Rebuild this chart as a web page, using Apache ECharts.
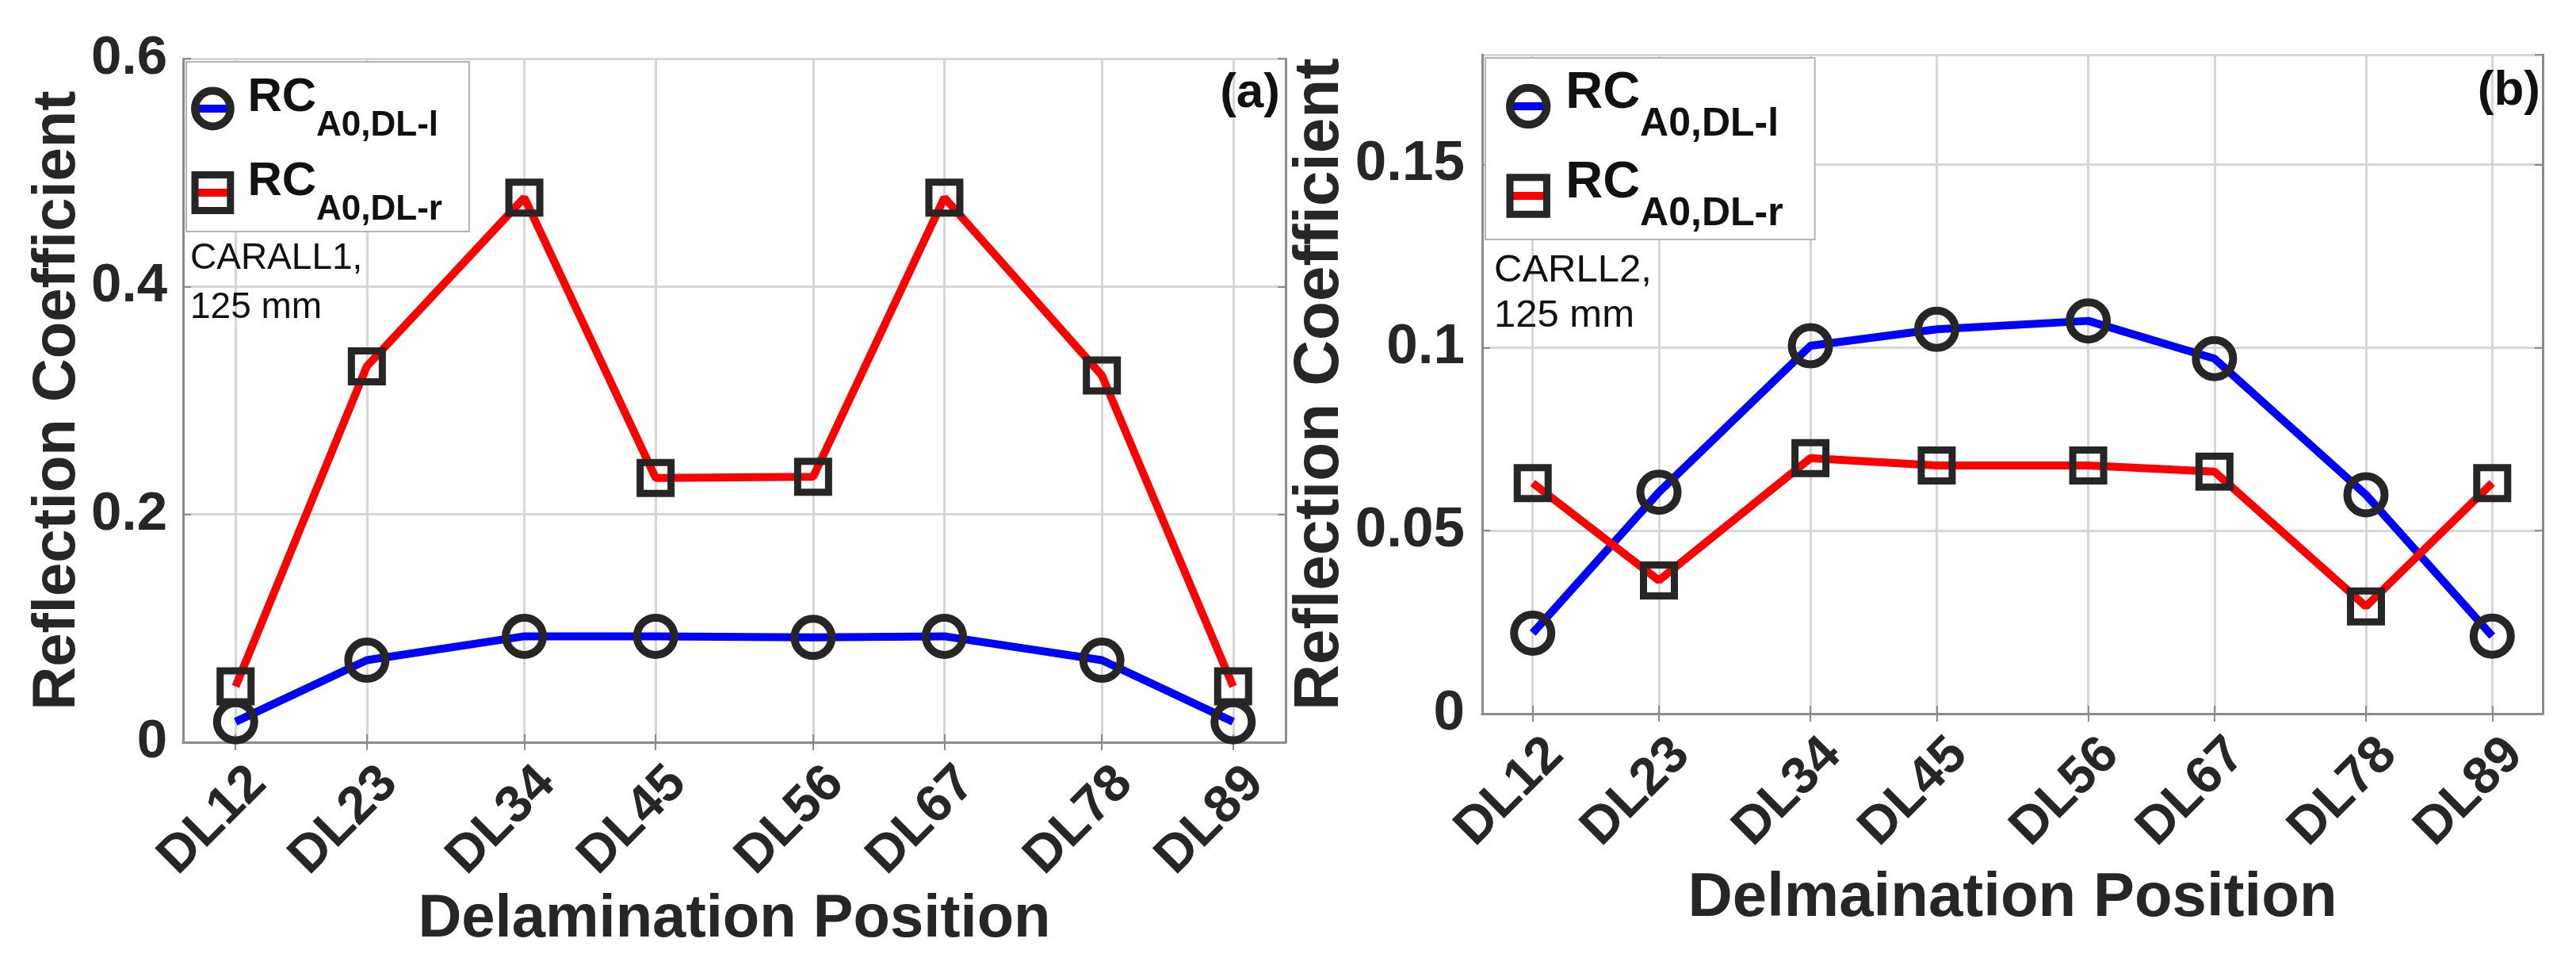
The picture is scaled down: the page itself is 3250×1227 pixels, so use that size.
<!DOCTYPE html>
<html>
<head>
<meta charset="utf-8">
<script src="https://cdn.jsdelivr.net/npm/echarts@6/dist/echarts.min.js"></script>
<style>
  html, body { margin: 0; padding: 0; background: #fff; }
  #chart { width: 3250px; height: 1227px; }
</style>
</head>
<body>
<div id="chart"></div>
<script>
// delamination positions, shared by both panels
const categories = ['DL12', 'DL23', 'DL34', 'DL45', 'DL56', 'DL67', 'DL78', 'DL89']
const xPositions = [1, 2, 3.2, 4.2, 5.4, 6.4, 7.6, 8.6]

// (a) CARALL1, 125 mm
const carall1Left = [0.018, 0.072, 0.093, 0.093, 0.092, 0.093, 0.072, 0.018]
const carall1Right = [0.049, 0.330, 0.478, 0.232, 0.233, 0.478, 0.322, 0.049]
const yTicksA = [0, 0.2, 0.4, 0.6]

// (b) CARLL2, 125 mm
const carll2Left = [0.022, 0.0605, 0.1005, 0.105, 0.1073, 0.097, 0.0598, 0.0212]
const carll2Right = [0.063, 0.0364, 0.0698, 0.0678, 0.0678, 0.0661, 0.0293, 0.063]
const yTicksB = [0, 0.05, 0.1, 0.15]

const seriesNames = ['RC A0,DL-l', 'RC A0,DL-r']

const FONT = '"Liberation Sans", Arial, Helvetica, sans-serif'
const INK = '#262626'
const BOX = '#8c8c8c'
const GRID = '#d6d6d6'
const BLUE = '#0000ff'
const RED = '#ff0000'
const HOLLOW = 'rgba(0,0,0,0)'

function pointsOf(values) {
    return xPositions.map(function (x, i) {
        return [x, values[i]]
    })
}

function categoryAt(v) {
    var i = xPositions.findIndex(function (p) {
        return Math.abs(p - v) < 1e-6
    })
    return i < 0 ? '' : categories[i]
}

function panelAxes(gridIndex, p) {
    var xAxes = [
        {
            type: 'value', gridIndex: gridIndex, position: 'bottom',
            min: 0.6, max: 9.0,
            name: p.xName, nameLocation: 'middle', nameGap: p.xNameGap,
            nameTextStyle: { fontFamily: FONT, fontWeight: 'bold', fontSize: p.xNameSize, color: INK },
            axisLine: { show: true, lineStyle: { color: BOX, width: 3 } },
            axisTick: { show: true, inside: true, length: 10, customValues: xPositions, lineStyle: { color: BOX, width: 2 } },
            axisLabel: {
                customValues: xPositions, formatter: categoryAt, rotate: 45,
                margin: p.xLabelMargin, padding: [0, -p.xLabelShift, 0, 0],
                fontFamily: FONT, fontWeight: 'bold', fontSize: 66, color: INK
            },
            splitLine: { show: true, lineStyle: { color: GRID, width: 3 } }
        },
        {
            type: 'value', gridIndex: gridIndex, position: 'top',
            min: 0.6, max: 9.0,
            axisLine: { show: true, lineStyle: { color: BOX, width: 3 } },
            axisTick: { show: true, inside: true, length: 10, customValues: xPositions, lineStyle: { color: BOX, width: 2 } },
            axisLabel: { show: false },
            splitLine: { show: false }
        }
    ]
    var yAxes = [
        {
            type: 'value', gridIndex: gridIndex, position: 'left',
            min: 0, max: p.yMax, interval: p.yTicks[1] - p.yTicks[0],
            name: 'Reflection Coefficient', nameLocation: 'middle', nameGap: p.yNameGap,
            nameTextStyle: { fontFamily: FONT, fontWeight: 'bold', fontSize: p.yNameSize, color: INK },
            axisLine: { show: true, lineStyle: { color: BOX, width: 3 } },
            axisTick: { show: true, inside: true, length: 10, lineStyle: { color: BOX, width: 2 } },
            axisLabel: {
                showMaxLabel: p.yMax === p.yTicks[p.yTicks.length - 1],
                margin: p.yLabelMargin, fontFamily: FONT, fontWeight: 'bold', fontSize: p.yLabelSize, color: INK
            },
            splitLine: { show: true, lineStyle: { color: GRID, width: 3 } }
        },
        {
            type: 'value', gridIndex: gridIndex, position: 'right',
            min: 0, max: p.yMax, interval: p.yTicks[1] - p.yTicks[0],
            axisLine: { show: true, lineStyle: { color: BOX, width: 3 } },
            axisTick: { show: true, inside: true, length: 10, lineStyle: { color: BOX, width: 2 } },
            axisLabel: { show: false },
            splitLine: { show: false }
        }
    ]
    return { x: xAxes, y: yAxes }
}

function panelSeries(axisBase, leftValues, rightValues) {
    return [
        {
            type: 'line', name: seriesNames[0],
            xAxisIndex: axisBase, yAxisIndex: axisBase,
            data: pointsOf(leftValues),
            symbol: 'circle', symbolSize: 47,
            itemStyle: { color: HOLLOW, borderColor: INK, borderWidth: 10 },
            lineStyle: { color: BLUE, width: 10 },
            emphasis: { disabled: true }
        },
        {
            type: 'line', name: seriesNames[1],
            xAxisIndex: axisBase, yAxisIndex: axisBase,
            data: pointsOf(rightValues),
            symbol: 'rect', symbolSize: 39,
            itemStyle: { color: HOLLOW, borderColor: INK, borderWidth: 9 },
            lineStyle: { color: RED, width: 10 },
            emphasis: { disabled: true }
        }
    ]
}

// the subscript is pushed down by padding: both tokens share the line middle
function panelLegend(l) {
    return {
        orient: 'vertical', left: l.left, top: l.top,
        padding: l.padding, itemGap: l.itemGap,
        itemWidth: l.itemWidth, itemHeight: l.itemHeight,
        backgroundColor: '#fff', borderColor: '#b4b4b4', borderWidth: 2,
        selectedMode: false,
        data: [
            { name: seriesNames[0], itemStyle: { color: HOLLOW, borderColor: INK, borderWidth: 10 }, lineStyle: { color: BLUE, width: 10 } },
            { name: seriesNames[1], itemStyle: { color: HOLLOW, borderColor: INK, borderWidth: 9 }, lineStyle: { color: RED, width: 10 } }
        ],
        formatter: function (name) {
            return '{m|RC}{s|' + name.slice(3) + '}'
        },
        textStyle: {
            fontFamily: FONT, color: '#111',
            rich: {
                m: { fontFamily: FONT, fontWeight: 'bold', fontSize: l.main, lineHeight: l.main, color: '#111',
                     padding: [0, 0, l.mainDrop, l.textIndent] },
                s: { fontFamily: FONT, fontWeight: 'bold', fontSize: l.sub, lineHeight: l.sub, color: '#111',
                     padding: [l.subDrop, 0, 0, 0] }
            }
        }
    }
}

function note(text, x, y, size, weight, align) {
    return {
        type: 'text', x: x, y: y, z: 100,
        style: { text: text, font: weight + ' ' + size + 'px ' + FONT, fill: '#111', align: align, verticalAlign: 'middle' }
    }
}

var axesA = panelAxes(0, {
    xName: 'Delamination Position', xNameGap: 186, xNameSize: 76, xLabelMargin: 70, xLabelShift: 40,
    yMax: 0.6, yTicks: yTicksA, yNameGap: 112, yNameSize: 76, yLabelMargin: 20, yLabelSize: 69
})
var axesB = panelAxes(1, {
    xName: 'Delmaination Position', xNameGap: 194, xNameSize: 78, xLabelMargin: 70, xLabelShift: 40,
    yMax: 0.18, yTicks: yTicksB, yNameGap: 154, yNameSize: 80, yLabelMargin: 22, yLabelSize: 71
})

var chart = echarts.init(document.getElementById('chart'), null, { renderer: 'canvas' })

var option = {
    animation: false,
    backgroundColor: '#fff',
    grid: [
        { left: 231, top: 74, width: 1391, height: 862 },
        { left: 1870, top: 69, width: 1338, height: 831 }
    ],
    xAxis: axesA.x.concat(axesB.x),
    yAxis: axesA.y.concat(axesB.y),
    legend: [
        panelLegend({ left: 235, top: 78, padding: [15, 34, 5, 6], itemGap: 18, itemWidth: 40, itemHeight: 56,
                      main: 60, sub: 44, mainDrop: 28, subDrop: 44, textIndent: 19 }),
        panelLegend({ left: 1874, top: 73, padding: [13, 40, 7, 26], itemGap: 17, itemWidth: 40, itemHeight: 58,
                      main: 65, sub: 50, mainDrop: 31, subDrop: 46, textIndent: 22 })
    ],
    series: panelSeries(0, carall1Left, carall1Right).concat(panelSeries(2, carll2Left, carll2Right)),
    graphic: [
        note('CARALL1,', 240, 326, 46, 'normal', 'left'),
        note('125 mm', 240, 388, 46, 'normal', 'left'),
        note('(a)', 1615, 118, 62, 'bold', 'right'),
        note('CARLL2,', 1885, 341, 49, 'normal', 'left'),
        note('125 mm', 1885, 398, 49, 'normal', 'left'),
        note('(b)', 3205, 115, 62, 'bold', 'right')
    ]
}

option && chart.setOption(option)
</script>
</body>
</html>
